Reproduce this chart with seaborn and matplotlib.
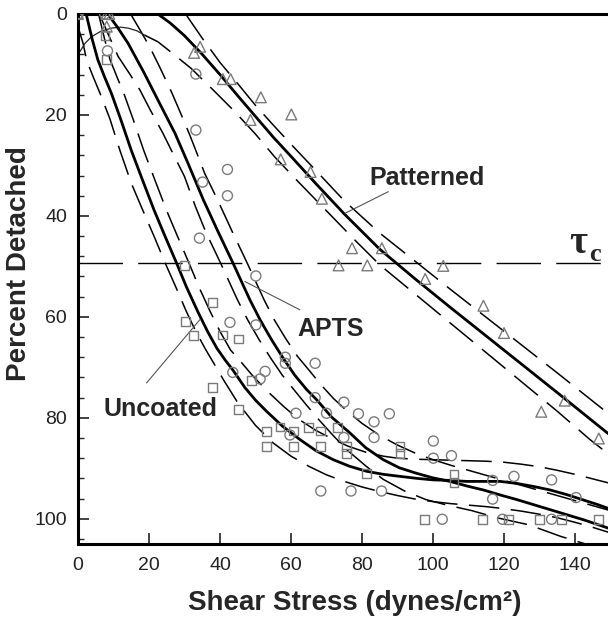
import matplotlib
matplotlib.use('Agg')
import matplotlib.pyplot as plt
from matplotlib.ticker import MultipleLocator
import seaborn as sns
import numpy as np

# measured points (shear stress, percent detached)
pat_x = [0, 8.1, 8.8, 8.1, 34.4, 32.7, 40.8, 43.0, 51.5, 60.1, 48.6, 57.1, 65.5,
         68.7, 77.2, 85.6, 73.4, 81.5, 102.9, 97.8, 114.2, 120.0, 137.1, 130.5, 146.7]
pat_y = [0, 0, 0, 2.5, 6.5, 7.7, 12.9, 12.9, 16.5, 19.9, 21.0, 28.8, 31.3,
         36.6, 46.4, 46.4, 49.8, 49.8, 49.9, 52.5, 57.8, 63.2, 76.6, 78.8, 84.1]

apts_x = [0, 7.5, 8.3, 33.2, 33.2, 42.1, 35.1, 42.1, 34.2, 50.1, 42.8, 50.1, 58.4, 58.4,
          66.8, 52.7, 51.3, 43.6, 66.8, 74.9, 61.4, 70.0, 79.0, 87.7, 83.4, 59.7, 74.9,
          83.4, 100.1, 100.1, 105.2, 116.8, 122.8, 133.4, 140.3, 116.8, 68.4, 76.9, 85.5,
          102.6, 119.6, 133.4]
apts_y = [0, 0, 7.3, 11.9, 23.0, 30.8, 33.3, 36.0, 44.4, 51.9, 61.1, 61.6, 68.0, 69.2,
          69.2, 70.8, 72.3, 71.0, 76.0, 76.9, 79.1, 79.1, 79.2, 79.2, 80.8, 83.4, 83.9,
          83.9, 84.6, 88.0, 87.5, 92.4, 91.6, 92.3, 95.8, 96.1, 94.5, 94.5, 94.5,
          100.1, 100.1, 100.1]

unc_x = [0, 7.6, 8.1, 30.1, 37.8, 30.2, 32.5, 40.8, 45.3, 37.8, 45.3, 48.8, 53.0, 53.0,
         56.9, 60.6, 60.6, 65.0, 68.2, 68.2, 73.2, 75.7, 75.7, 81.3, 90.7, 90.7, 105.9,
         105.9, 97.7, 114.0, 121.2, 130.1, 136.2, 146.6]
unc_y = [0, 4.2, 9.0, 49.8, 57.2, 60.9, 63.7, 63.6, 64.4, 74.0, 78.3, 72.6, 82.7, 85.7,
         81.8, 82.6, 85.7, 81.9, 82.6, 85.7, 81.9, 85.7, 87.0, 91.0, 85.7, 87.0, 91.3,
         92.8, 100.1, 100.1, 100.1, 100.1, 100.1, 100.1]

# fitted curves
pat_fit_x = [22.5, 26, 30, 35, 40, 45, 50, 55, 60, 67, 75, 85, 95, 105, 115, 125, 135, 150]
pat_fit_y = [0, 1.8, 4.3, 8.0, 12.0, 16.2, 20.3, 24.4, 28.2, 33.6, 39.6, 46.6, 52.5,
             58.2, 63.8, 69.4, 75.0, 83.5]
pat_up_x = [30.5, 35, 40, 45, 50, 55, 60, 67, 75, 85, 95, 105, 115, 125, 135, 150]
pat_up_y = [0.2, 4.8, 9.6, 13.8, 18.1, 22, 25.8, 31, 37, 43.4, 49, 54.6, 60.1, 65.6,
            71.1, 79.5]
pat_lo_x = [18.8, 22.5, 27, 31.9, 38, 44.1, 50, 55.4, 62, 70, 78, 85, 95, 105, 115,
            125, 135, 144.2, 150]
pat_lo_y = [4.2, 5.5, 8, 10.8, 15, 19.3, 23.8, 28.3, 33.2, 39, 44.8, 49.7, 55.5, 61.3,
            67.1, 72.9, 78.7, 84.3, 87.5]
arc_x = [0.5, 2, 3.8, 6.5, 9.4, 12, 14.1, 16.5, 18.8]
arc_y = [7.5, 5.8, 4.5, 3.4, 2.8, 2.6, 2.8, 3.3, 4.2]

apts_fit_x = [8.9, 11, 14.1, 18.5, 23.5, 27.3, 31, 35.3, 39.5, 43.7, 48.4, 51.3, 54.5,
              57.8, 61, 64.4, 67.2, 71.5, 76.6, 81, 86, 90.5, 95.4, 100, 104.8, 109.5,
              114.2, 119, 123.6, 128.3, 133, 137.7, 142.4, 150]
apts_fit_y = [0.5, 2.5, 5.8, 11.5, 18.4, 23.6, 29.6, 36.8, 43.2, 49.4, 56.6, 60.6, 64.5,
              68.2, 71.5, 74.4, 76.4, 79.9, 83, 85.9, 88.3, 89.9, 91, 91.9, 92.6, 93.5,
              94.3, 95.3, 96.2, 97.2, 98.2, 99.2, 100.2, 102]
apts_up_x = [15, 17.5, 20.2, 23, 26.3, 29, 31.5, 33.5, 35.7, 39.3, 43.5, 47.7, 52.4,
             55.3, 58.5, 61.8, 65, 68.5, 72, 76, 80, 85, 90, 95, 100, 105, 110, 115,
             120, 125, 130, 135, 140, 145, 150]
apts_up_y = [0.2, 3.2, 6.5, 10.5, 15.4, 19.8, 24, 27.6, 31.6, 36.8, 43.2, 49.4, 56.6,
             60.6, 64.3, 67.8, 70.5, 73.5, 76.2, 78.8, 81.1, 83.5, 85.4, 87, 88.3, 89.4,
             90.4, 91.4, 92.4, 93.4, 94.4, 95.4, 96.4, 97.4, 98.4]
apts_lo_x = [6, 8.5, 11.3, 14.5, 17.4, 20.5, 23.9, 27, 30, 33, 36, 40.2, 44.9, 47.8,
             51, 54.3, 57.5, 60.9, 64.5, 68, 72, 76, 81, 86, 92, 98, 104, 111, 118, 127,
             136, 143, 150]
apts_lo_y = [0, 4, 8.4, 11.8, 15, 19.2, 23.6, 28, 32.2, 38, 43.2, 49.4, 56.6, 60.6,
             64.5, 68.2, 71.5, 74.5, 77.6, 80.5, 83.6, 86.5, 89.5, 92.2, 94.5, 96.2,
             97.3, 98.4, 99.8, 101.2, 103.5, 105, 106.5]

unc_fit_x = [2.3, 4, 5.6, 7.5, 9.4, 12, 15, 18.5, 21.4, 24.5, 27.8, 30.5, 33.7, 36.5,
             39.1, 41.5, 43.7, 47, 50, 53.1, 57.5, 62.5, 67, 71.9, 76.5, 81.3, 86, 90.7,
             95.5, 100.1, 104.8, 109.5, 114.2, 118.9, 123.6, 128.3, 133, 137.6, 142,
             146, 150]
unc_fit_y = [0, 5, 9.1, 12.5, 15.7, 20.8, 27, 33.5, 38.8, 44, 49.4, 54, 58.9, 62.9,
             66.2, 68.6, 70.6, 74, 76.5, 78.7, 81.6, 84.3, 86.5, 88.3, 89.6, 90.6, 91.2,
             91.6, 92, 92.3, 92.4, 92.6, 92.6, 92.6, 93, 93.6, 94.3, 95.2, 96.2, 97.1,
             98.1]
unc_up_x = [5.8, 7.5, 9, 11, 13, 15.5, 18.5, 21.5, 25, 28, 31.3, 34.2, 37.2, 40, 43,
            46, 49, 53, 58, 62, 67, 72, 76, 81, 86, 90, 95, 100, 105, 110, 115, 120,
            125, 130, 135, 140, 145, 150]
unc_up_y = [0, 5, 9, 12.5, 15.9, 20.8, 27, 32.6, 39, 44, 49.4, 54.3, 58.9, 62.9, 66.6,
            69, 71.5, 74.5, 77.8, 80.2, 82.5, 84.3, 85.6, 86.8, 87.6, 88, 88.2, 88.3,
            88.4, 88.5, 88.6, 88.8, 89.2, 89.7, 90.4, 91.2, 92.1, 93]
unc_lo_x = [0, 1.5, 2.4, 4.3, 6.2, 9, 11.8, 15, 18.2, 21.4, 24.6, 27.5, 30.5, 33.2,
            35.9, 38.5, 41, 45, 50, 55, 60, 65, 70, 75, 80, 85, 90, 95, 100, 105, 110,
            115, 120, 125, 130, 135, 140, 145, 150]
unc_lo_y = [2.5, 6, 9.1, 12.5, 15.7, 20.8, 27, 33.5, 38.8, 44, 49.4, 54, 58.9, 62.9,
            66.4, 69.5, 72.5, 77, 81.5, 85, 87.6, 89.6, 91.3, 92.6, 93.7, 94.6, 95.4,
            96.1, 96.6, 97, 97.3, 97.6, 98, 98.5, 99.1, 99.8, 100.7, 101.7, 102.8]

tau_c = 49.4

sns.set_style('ticks')
plt.rcParams['font.family'] = ['Liberation Sans', 'DejaVu Sans']

fig = plt.figure(figsize=(6.08, 6.24), dpi=100)
ax = fig.add_axes([78 / 608, 1 - 544 / 624, 532.5 / 608, 530 / 624])

dash = (0, (20, 7.5))
for bx, by in [(pat_up_x, pat_up_y), (pat_lo_x, pat_lo_y),
               (apts_up_x, apts_up_y), (apts_lo_x, apts_lo_y),
               (unc_up_x, unc_up_y), (unc_lo_x, unc_lo_y)]:
    sns.lineplot(x=bx, y=by, sort=False, estimator=None, color='black',
                 lw=1.1, linestyle=dash, ax=ax)
sns.lineplot(x=arc_x, y=arc_y, sort=False, estimator=None, color='#222222',
             lw=0.9, ax=ax)

for fx, fy in [(pat_fit_x, pat_fit_y), (apts_fit_x, apts_fit_y),
               (unc_fit_x, unc_fit_y)]:
    sns.lineplot(x=fx, y=fy, sort=False, estimator=None, color='black',
                 lw=2.0, ax=ax)

ax.axhline(tau_c, color='black', lw=1.0, linestyle=(0, (32, 11)))

mk = dict(facecolor='none', edgecolor='#7a7a7a', linewidth=1.0, zorder=3)
sns.scatterplot(x=pat_x, y=pat_y, marker='^', s=60, ax=ax, **mk)
sns.scatterplot(x=apts_x, y=apts_y, marker='o', s=52, ax=ax, **mk)
sns.scatterplot(x=unc_x, y=unc_y, marker='s', s=40, ax=ax, **mk)

# label leaders
ax.plot([87.4, 75.2], [35.2, 39.5], color='#555555', lw=0.8)
ax.plot([62.5, 47.0], [58.6, 53.0], color='#555555', lw=0.8)
ax.plot([19.3, 34.4], [73.1, 60.5], color='#555555', lw=0.8)

lab = dict(fontsize=18, fontweight='bold', ha='center', va='baseline')
ax.text(98.2, 33.9, 'Patterned', **lab)
ax.text(71.2, 63.8, 'APTS', **lab)
ax.text(23.3, 79.6, 'Uncoated', **lab)
ax.text(138.4, 47.4, '\u03c4', fontsize=28, fontweight='bold',
        family=['Liberation Serif', 'DejaVu Serif'], ha='left', va='baseline')
ax.text(144.0, 48.9, 'c', fontsize=19, fontweight='bold',
        family=['Liberation Serif', 'DejaVu Serif'], ha='left', va='baseline')

ax.set_xlim(0, 150)
ax.set_ylim(105, 0)
ax.yaxis.set_minor_locator(MultipleLocator(4))
ax.set_yticks([0, 20, 40, 60, 80, 100])
ax.set_xticks([0, 20, 40, 60, 80, 100, 120, 140])

ax.tick_params(axis='both', which='major', direction='in', length=8, width=1.2,
               labelsize=14, colors='#222222')
ax.tick_params(axis='x', pad=9)
ax.tick_params(axis='y', pad=8)
ax.tick_params(axis='y', which='minor', direction='in', length=4, width=1.0)
for s in ['left', 'bottom', 'top', 'right']:
    ax.spines[s].set_linewidth(2.2)
    ax.spines[s].set_color('black')

ax.set_xlabel('Shear Stress (dynes/cm\u00b2)', fontsize=20, fontweight='bold')
ax.set_ylabel('Percent Detached', fontsize=20, fontweight='bold')
ax.xaxis.set_label_coords(0.519, -0.086)
ax.yaxis.set_label_coords(-0.087, 0.53)

fig.savefig('out.png', dpi=100)
